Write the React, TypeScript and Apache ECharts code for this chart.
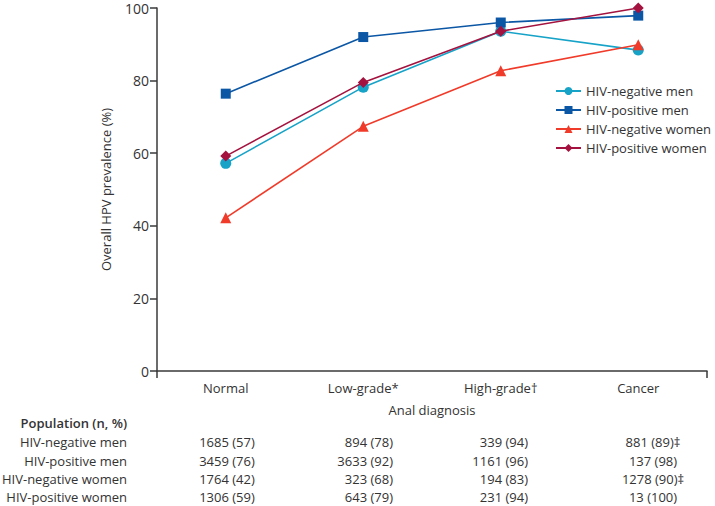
import React, { useEffect, useRef } from "react";
import * as echarts from "echarts";

const categories = ["Normal", "Low-grade*", "High-grade†", "Cancer"];
const yTicks = { min: 0, max: 100, interval: 20 };

const seriesNames = ["HIV-negative men", "HIV-positive men", "HIV-negative women", "HIV-positive women"];
const hivNegMen = [57.2, 78.2, 93.6, 88.4];
const hivPosMen = [76.4, 92.0, 96.0, 97.9];
const hivNegWomen = [42.2, 67.4, 82.7, 89.9];
const hivPosWomen = [59.2, 79.5, 93.6, 100];

const nNegMen = [1685, 894, 339, 881];
const pNegMen = [57, 78, 94, 89];
const noteNegMen = ["", "", "", "‡"];
const nPosMen = [3459, 3633, 1161, 137];
const pPosMen = [76, 92, 96, 98];
const notePosMen = ["", "", "", ""];
const nNegWomen = [1764, 323, 194, 1278];
const pNegWomen = [42, 68, 83, 90];
const noteNegWomen = ["", "", "", "‡"];
const nPosWomen = [1306, 643, 231, 13];
const pPosWomen = [59, 79, 94, 100];
const notePosWomen = ["", "", "", ""];

const FONT = "'Open Sans', sans-serif";
const TXT = "#333333";
const AX = "#3a3a3a";

export default function App() {
  const ref = useRef<HTMLDivElement>(null);
  useEffect(() => {
    if (!ref.current) return;
    const chart = echarts.init(ref.current, null, { renderer: "svg" });

    const colors = ["#17a3c8", "#0b57a5", "#f03b2a", "#a4123f"];
    const symbols = ["circle", "rect", "triangle", "diamond"];
    const sizes = [11, 10, 11, 11];
    const values = [hivNegMen, hivPosMen, hivNegWomen, hivPosWomen];

    const rows = [
      { label: seriesNames[0], n: nNegMen, p: pNegMen, note: noteNegMen },
      { label: seriesNames[1], n: nPosMen, p: pPosMen, note: notePosMen },
      { label: seriesNames[2], n: nNegWomen, p: pNegWomen, note: noteNegWomen },
      { label: seriesNames[3], n: nPosWomen, p: pPosWomen, note: notePosWomen },
    ];
    const rowY = [442, 461, 479, 497];
    const colLayout = [
      { x: 227, align: "center" },
      { x: 393, align: "right" },
      { x: 528, align: "right" },
      { x: 653, align: "center" },
    ];

    const graphic: any[] = [
      {
        type: "text",
        x: 127,
        y: 423,
        style: {
          text: "Population (n, %)",
          fill: TXT,
          font: `600 13px ${FONT}`,
          align: "right",
          verticalAlign: "middle",
        },
      },
    ];
    rows.forEach((r, i) => {
      graphic.push({
        type: "text",
        x: 127,
        y: rowY[i],
        style: { text: r.label, fill: TXT, font: `13px ${FONT}`, align: "right", verticalAlign: "middle" },
      });
      r.n.forEach((n, j) => {
        graphic.push({
          type: "text",
          x: colLayout[j].x,
          y: rowY[i],
          style: {
            text: `${n} (${r.p[j]})${r.note[j]}`,
            fill: TXT,
            font: `13px ${FONT}`,
            align: colLayout[j].align,
            verticalAlign: "middle",
          },
        });
      });
    });

    chart.setOption({
      animation: false,
      textStyle: { fontFamily: FONT, color: TXT },
      grid: { left: 157, right: 8, top: 8, bottom: 135, containLabel: false },
      legend: {
        orient: "vertical",
        left: 550,
        top: 79,
        itemWidth: 25,
        itemHeight: 10,
        itemGap: 5,
        data: seriesNames,
        textStyle: { fontFamily: FONT, fontSize: 13, color: TXT, lineHeight: 14 },
      },
      xAxis: [
        {
          type: "category",
          data: categories,
          boundaryGap: true,
          axisLine: { lineStyle: { color: AX, width: 1.5 } },
          axisTick: { alignWithLabel: true, length: 7, lineStyle: { color: AX, width: 1.5 } },
          axisLabel: { fontSize: 13, color: TXT, margin: 10, fontFamily: FONT },
          name: "Anal diagnosis",
          nameLocation: "middle",
          nameGap: 32,
          nameTextStyle: { fontSize: 13, color: TXT, fontFamily: FONT },
        },
        {
          type: "value",
          min: 0,
          max: 1,
          interval: 1,
          position: "bottom",
          axisLine: { show: false },
          axisTick: { show: true, length: 7, lineStyle: { color: AX, width: 1.5 } },
          axisLabel: { show: false },
          splitLine: { show: false },
        },
      ],
      yAxis: {
        type: "value",
        min: yTicks.min,
        max: yTicks.max,
        interval: yTicks.interval,
        axisLine: { show: true, lineStyle: { color: AX, width: 1.5 } },
        axisTick: { show: true, length: 7, lineStyle: { color: AX, width: 1.5 } },
        axisLabel: { fontSize: 14, lineHeight: 12, color: TXT, margin: 8, fontFamily: FONT },
        splitLine: { show: false },
        name: "Overall HPV prevalence (%)",
        nameLocation: "middle",
        nameGap: 45,
        nameTextStyle: { fontSize: 13, color: TXT, fontFamily: FONT },
      },
      series: seriesNames.map((name, i) => ({
        name,
        type: "line",
        xAxisIndex: 0,
        data: values[i],
        symbol: symbols[i],
        symbolSize: sizes[i],
        itemStyle: { color: colors[i] },
        lineStyle: { color: colors[i], width: 1.6 },
        z: 2 + i,
      })),
      graphic,
    });
    return () => chart.dispose();
  }, []);
  return (
    <div
      ref={ref}
      style={{ position: "fixed", left: 0, top: 0, width: 715, height: 506, background: "#fff" }}
    />
  );
}
